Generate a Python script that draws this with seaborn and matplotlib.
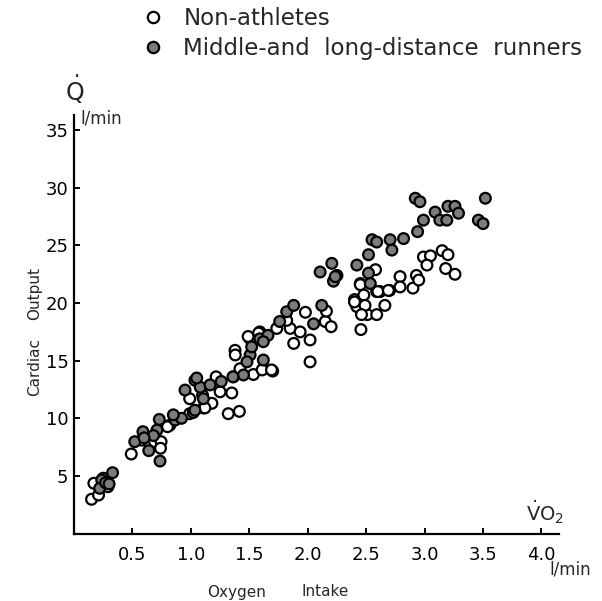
import matplotlib
matplotlib.use("Agg")
import matplotlib.pyplot as plt
import seaborn as sns
import pandas as pd

sns.set_theme(style="ticks")
plt.rcParams['font.family'] = ['DejaVu Sans']

groups = ["Non-athletes", "Middle-and  long-distance  runners"]

non_x = [0.15, 0.21, 0.17, 0.29, 0.25,
         0.49, 0.58, 0.69, 0.745, 0.82, 0.74, 0.80,
         0.99, 1.107, 1.18, 0.99, 1.12, 1.216, 1.32, 1.415, 1.35, 1.364, 1.42,
         1.535, 1.378, 1.38, 1.507, 1.62, 1.70, 1.59, 1.735, 1.49, 1.58, 1.61, 1.69,
         1.98, 1.85, 1.935, 1.88, 2.02, 2.02, 1.82, 2.15, 2.20, 2.16, 2.455,
         2.45, 2.40, 2.48, 2.58, 2.51, 2.59, 2.62, 2.70, 2.45, 2.60, 2.69,
         2.79, 2.79, 2.90, 2.93, 2.95, 2.99, 3.05, 3.02, 3.15, 3.20, 3.18, 3.26,
         2.42, 2.49, 2.46, 2.66, 2.59, 2.40, 1.10, 1.25]
non_y = [2.97, 3.34, 4.36, 4.06, 4.80,
         6.90, 8.10, 7.97, 7.97, 9.40, 7.40, 9.27,
         10.4, 10.9, 11.3, 11.7, 10.9, 13.6, 10.4, 10.6, 12.2, 13.6, 14.3,
         13.8, 15.9, 15.5, 16.9, 14.3, 14.1, 17.5, 17.8, 17.1, 17.4, 14.2, 14.2,
         19.2, 17.8, 17.5, 16.5, 16.8, 14.9, 18.5, 18.4, 17.95, 19.3, 17.7,
         21.7, 20.3, 20.7, 22.9, 19.0, 21.0, 21.0, 21.1, 21.6, 21.0, 21.1,
         22.3, 21.4, 21.3, 22.4, 22.0, 24.0, 24.1, 23.3, 24.55, 24.2, 23.0, 22.5,
         19.7, 19.8, 19.0, 19.8, 19.0, 20.1, 12.0, 12.3]

run_x = [0.237, 0.33, 0.22, 0.27, 0.30,
         0.52, 0.59, 0.64, 0.71, 0.73, 0.736, 0.865, 0.92, 0.68, 0.85, 0.60,
         0.95, 1.02, 1.035, 1.107, 1.035, 1.08, 1.164, 1.26, 1.45, 1.507, 1.52,
         1.59, 1.62, 1.66, 1.76, 1.82, 1.88, 2.05, 2.12, 1.48, 1.62, 1.36, 1.05,
         2.106, 2.206, 2.25, 2.22, 2.42, 2.52, 2.52, 2.535, 2.55, 2.59, 2.705,
         2.72, 2.82, 2.94, 2.99, 2.92, 2.96, 3.09, 3.13, 3.19, 3.20, 3.26, 3.29,
         3.46, 3.50, 3.52, 2.235]
run_y = [4.64, 5.28, 3.92, 4.40, 4.30,
         7.97, 8.84, 7.19, 8.98, 9.90, 6.29, 9.85, 10.0, 8.50, 10.3, 8.30,
         12.45, 10.5, 10.7, 11.7, 13.3, 12.7, 12.9, 13.2, 13.76, 15.5, 16.2,
         16.9, 15.06, 17.2, 18.4, 19.25, 19.8, 18.2, 19.8, 14.9, 16.65, 13.6, 13.5,
         22.7, 23.45, 22.4, 21.9, 23.3, 24.2, 22.6, 21.7, 25.5, 25.3, 25.5,
         24.6, 25.6, 26.2, 27.2, 29.1, 28.8, 27.9, 27.2, 27.2, 28.4, 28.4, 27.8,
         27.2, 26.9, 29.1, 22.3]

x_ticks = [0.5, 1.0, 1.5, 2.0, 2.5, 3.0, 3.5, 4.0]
x_labels = ["0.5", "1.0", "1.5", "2.0", "2.5", "3.0", "3.5", "4.0"]
y_ticks = [5, 10, 15, 20, 25, 30, 35]
y_labels = ["5", "10", "15", "20", "25", "30", "35"]

df = pd.DataFrame({
    "VO2": non_x + run_x,
    "Q": non_y + run_y,
    "group": [groups[0]] * len(non_x) + [groups[1]] * len(run_x),
})

W, H = 602, 601
fig = plt.figure(figsize=(W / 100, H / 100), dpi=100)
ax = fig.add_axes([74 / W, (H - 533.5) / H, 485 / W, 418.2 / H])

sns.scatterplot(data=df, x="VO2", y="Q", hue="group",
                palette={groups[0]: "white", groups[1]: "#7c7c7c"},
                edgecolor="black", linewidth=1.6, s=60, ax=ax, zorder=3)

ax.set_xlim(0, 4.15)
ax.set_ylim(0, 36.3)
ax.set_xticks(x_ticks)
ax.set_xticklabels(x_labels)
ax.set_yticks(y_ticks)
ax.set_yticklabels(y_labels)
ax.set_xlabel("")
ax.set_ylabel("")
for s in ["top", "right"]:
    ax.spines[s].set_visible(False)
for s in ["left", "bottom"]:
    ax.spines[s].set_linewidth(1.6)
    ax.spines[s].set_color("black")
ax.tick_params(axis="both", direction="in", length=4, width=1.4, colors="black",
               labelsize=13)
ax.tick_params(axis="x", pad=9)
ax.tick_params(axis="y", pad=4)

sns.move_legend(ax, "upper left", bbox_to_anchor=(142 / W, 1 - 7 / H),
                bbox_transform=fig.transFigure, frameon=False, title=None,
                fontsize=16.5, handlelength=1.0, handletextpad=0.8,
                labelspacing=0.3, borderpad=0, borderaxespad=0, markerscale=1.05)

fig.text(75 / W, 1 - 90 / H, r"$\dot{\mathrm{Q}}$", fontsize=17, ha="center", va="center")
fig.text(80 / W, 1 - 118 / H, "l/min", fontsize=12, ha="left", va="center")
fig.text(545 / W, 1 - 512 / H, r"$\dot{\mathrm{V}}\mathrm{O}_2$", fontsize=14,
         ha="center", va="center")
fig.text(570 / W, 1 - 570 / H, "l/min", fontsize=12, ha="center", va="center")
fig.text(237 / W, 1 - 592 / H, "Oxygen", fontsize=11, ha="center", va="center")
fig.text(325 / W, 1 - 592 / H, "Intake", fontsize=11, ha="center", va="center")
fig.text(35 / W, 1 - 367 / H, "Cardiac", fontsize=11, ha="center", va="center",
         rotation=90)
fig.text(35 / W, 1 - 293 / H, "Output", fontsize=11, ha="center", va="center",
         rotation=90)

fig.savefig("out.png", dpi=100)
